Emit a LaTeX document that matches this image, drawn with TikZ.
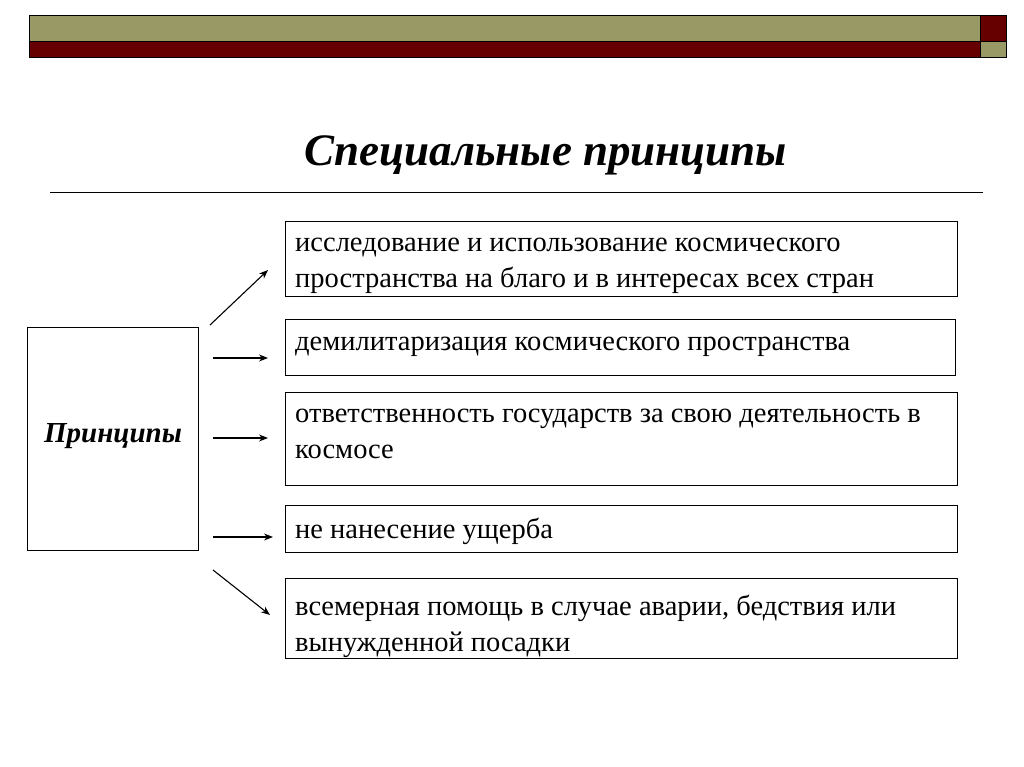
\documentclass[tikz,border=0pt]{standalone}
\usepackage{fontspec}
\setmainfont{Liberation Serif}
\usetikzlibrary{arrows.meta}
\definecolor{olive}{HTML}{999966}
\definecolor{dred}{HTML}{660000}
\begin{document}
\begin{tikzpicture}[x=1pt,y=-1pt,
 txt/.style={anchor=west,font=\fontsize{28.5}{36}\selectfont,inner sep=0pt},
 ml/.style={anchor=north west,align=left,inner sep=0pt,font=\fontsize{28.5}{36}\selectfont},
 arr/.style={-{Stealth[length=9pt,width=7pt]},line width=1.1pt}]
\useasboundingbox (0,0) rectangle (1024,767);
\fill[olive,draw=black,line width=0.8pt] (29,15) rectangle (980,41);
\fill[dred,draw=black,line width=0.8pt] (29,41) rectangle (980,57);
\fill[dred,draw=black,line width=0.8pt] (980,15) rectangle (1006,41);
\fill[olive,draw=black,line width=0.8pt] (980,41) rectangle (1006,57);
\node[font=\fontsize{45}{50}\selectfont\bfseries\itshape] (title) at (546,155) {Специальные принципы};
\draw[line width=0.8pt] (50,192) -- (983,192);
\draw[line width=1pt] (27,327) rectangle (198,550);
\node[font=\fontsize{29}{32}\selectfont\bfseries\itshape] (p) at (113,436) {Принципы};
\draw[line width=1pt] (285,222) rectangle (957,296);
\draw[line width=1pt] (285,319) rectangle (955,375);
\draw[line width=1pt] (285,392) rectangle (957,485);
\draw[line width=1pt] (285,505) rectangle (957,552);
\draw[line width=1pt] (285,578) rectangle (957,658);
\node[ml] (t1) at (295,238) {исследование и использование космического\\пространства на благо и в интересах всех стран};
\node[txt] (t2) at (295,347) {демилитаризация космического пространства};
\node[ml] (t3) at (295,409) {ответственность государств за свою деятельность в\\космосе};
\node[txt] (t4) at (295,531) {не нанесение ущерба};
\node[ml] (t5) at (295,595) {всемерная помощь в случае аварии, бедствия или\\вынужденной посадки};
\coordinate (a1s) at (210,325); \coordinate (a1e) at (268,270);
\coordinate (a2s) at (213,358); \coordinate (a2e) at (268,358);
\coordinate (a3s) at (213,438); \coordinate (a3e) at (268,438);
\coordinate (a4s) at (213,537); \coordinate (a4e) at (273,537);
\coordinate (a5s) at (213,570); \coordinate (a5e) at (270,615);
\foreach \i in {1,...,5} \draw[arr] (a\i s) -- (a\i e);
\end{tikzpicture}
\end{document}
